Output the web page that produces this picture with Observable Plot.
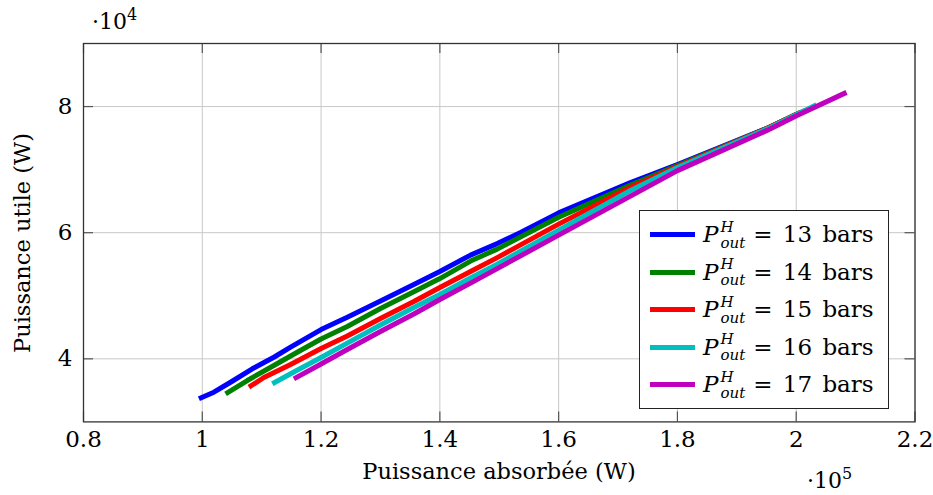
<!DOCTYPE html>
<html><head><meta charset="utf-8">
<script src="https://cdn.jsdelivr.net/npm/d3@7"></script>
<script src="https://cdn.jsdelivr.net/npm/@observablehq/plot@0.6"></script>
<style>
body{margin:0;background:#fff;}
#wrap{position:relative;width:933px;height:495px;font-family:"DejaVu Serif","Liberation Serif","Noto Serif",serif;color:#000;overflow:hidden;}
.ov{position:absolute;white-space:nowrap;line-height:1;}
#legend{position:absolute;left:639px;top:210px;width:250px;height:199px;box-sizing:border-box;border:1.3px solid #222;background:#fff;padding-top:5px;}
.row{display:flex;align-items:center;height:37.5px;font-size:23px;line-height:1;}
.sw{width:45px;height:5px;margin-left:10px;margin-right:8px;flex:none;}
.P{font-style:italic;}
.ss{display:inline-flex;flex-direction:column;font-style:italic;font-size:15px;line-height:1.08;margin-left:2px;}
.rest{margin-left:8px;word-spacing:3px;}
</style></head><body><div id="wrap"></div><script>
// Series: outlet pressure P_out^H (bars)
const seriesNames = ["13", "14", "15", "16", "17"];
const seriesColors = ["#0000ff", "#008000", "#ff0000", "#00bfbf", "#bf00bf"];

// Puissance absorbée (W) / Puissance utile (W)
const p13X = [99430, 101950, 104760, 108420, 112050, 114870, 120000, 124410, 130000, 135620, 140000, 145170, 149660, 153590, 160000, 172100, 180000, 195170, 200050];
const p13Y = [33660, 34710, 36290, 38420, 40250, 41840, 44640, 46590, 49160, 51780, 53840, 56450, 58270, 60020, 63140, 67940, 70790, 76580, 78800];
const p14X = [103920, 107580, 112050, 115990, 120000, 124410, 130000, 135620, 140000, 145170, 149660, 160000, 172100, 180000, 195170, 200720];
const p14Y = [34450, 36560, 38940, 41050, 43140, 45120, 47970, 50620, 52730, 55500, 57400, 62440, 67540, 70630, 76580, 79110];
const p15X = [107850, 110370, 114870, 120000, 124410, 130000, 135620, 140000, 145170, 149660, 160000, 172100, 180000, 195170, 201570];
const p15Y = [35500, 37040, 39100, 41630, 43610, 46390, 49080, 51300, 53840, 56050, 61360, 67200, 70480, 76580, 79430];
const p16X = [111790, 115420, 120000, 124410, 130000, 135620, 140000, 145170, 149660, 160000, 172100, 180000, 195170, 203420];
const p16Y = [36040, 37910, 40210, 42500, 45360, 48130, 50190, 52810, 55020, 60410, 66700, 70320, 76500, 80300];
const p17X = [115420, 120000, 124410, 130000, 135620, 140000, 145170, 149660, 160000, 172100, 180000, 195170, 200050, 208470];
const p17Y = [36830, 39180, 41470, 44330, 47100, 49400, 52010, 54310, 59620, 65800, 69840, 76260, 78560, 82250];

const xTicks = [80000, 100000, 120000, 140000, 160000, 180000, 200000, 220000];
const xTickLabels = ["0.8", "1", "1.2", "1.4", "1.6", "1.8", "2", "2.2"];
const yTicks = [40000, 60000, 80000];
const yTickLabels = ["4", "6", "8"];

const seriesX = [p13X, p14X, p15X, p16X, p17X];
const seriesY = [p13Y, p14Y, p15Y, p16Y, p17Y];
const data = seriesNames.flatMap((s, k) => seriesX[k].map((x, i) => ({series: s, x, y: seriesY[k][i]})));

const W = 933, H = 495, mL = 83, mR = 18.5, mT = 43, mB = 73.6;
const plotW = W - mL - mR, plotH = H - mT - mB;
const tickLen = 10, gridColor = "#c8c8c8", tickColor = "#555";

const chart = Plot.plot({
  width: W, height: H,
  marginLeft: mL, marginRight: mR, marginTop: mT, marginBottom: mB,
  style: {fontFamily: "'DejaVu Serif', 'Liberation Serif', serif", fontSize: "23px", background: "white", color: "#000"},
  x: {domain: [80000, 220000]},
  y: {domain: [30000, 90000]},
  color: {domain: seriesNames, range: seriesColors},
  marks: [
    Plot.gridX(xTicks, {stroke: gridColor, strokeOpacity: 1, strokeWidth: 1}),
    Plot.gridY(yTicks, {stroke: gridColor, strokeOpacity: 1, strokeWidth: 1}),
    Plot.tickX(xTicks, {x: d => d, insetTop: plotH - tickLen, stroke: tickColor, strokeWidth: 1.2}),
    Plot.tickX(xTicks, {x: d => d, insetBottom: plotH - tickLen, stroke: tickColor, strokeWidth: 1.2}),
    Plot.tickY(yTicks, {y: d => d, insetRight: plotW - tickLen, stroke: tickColor, strokeWidth: 1.2}),
    Plot.tickY(yTicks, {y: d => d, insetLeft: plotW - tickLen, stroke: tickColor, strokeWidth: 1.2}),
    Plot.line(data, {x: "x", y: "y", z: "series", stroke: "series", strokeWidth: 5, strokeLinejoin: "round", strokeLinecap: "butt"}),
    Plot.frame({stroke: "#333", strokeWidth: 1.3}),
    Plot.axisX(xTicks, {tickSize: 0, tickPadding: 9, tickFormat: d => xTickLabels[xTicks.indexOf(d)], label: null}),
    Plot.axisY(yTicks, {tickSize: 0, tickPadding: 11, tickFormat: d => yTickLabels[yTicks.indexOf(d)], label: null})
  ]
});

const wrap = document.getElementById("wrap");
wrap.appendChild(chart);

function addText(html, css) {
  const d = document.createElement("div");
  d.className = "ov";
  d.innerHTML = html;
  Object.assign(d.style, css);
  wrap.appendChild(d);
  return d;
}
addText("Puissance absorbée (W)", {left: "499px", top: "460px", fontSize: "22.5px", transform: "translateX(-50%)"});
addText("Puissance utile (W)", {left: "22px", top: "243px", fontSize: "22.5px", transform: "translate(-50%,-50%) rotate(-90deg)"});
addText("·10<sup style='font-size:16px;vertical-align:0.55em;line-height:0'>4</sup>", {left: "92px", top: "11px", fontSize: "22px"});
addText("·10<sup style='font-size:16px;vertical-align:0.55em;line-height:0'>5</sup>", {left: "807px", top: "470px", fontSize: "22px"});

const legend = document.createElement("div");
legend.id = "legend";
seriesNames.forEach((s, k) => {
  const row = document.createElement("div");
  row.className = "row";
  row.innerHTML = `<span class="sw" style="background:${seriesColors[k]}"></span><span class="P">P</span><span class="ss"><span>H</span><span>out</span></span><span class="rest">= ${s} bars</span>`;
  legend.appendChild(row);
});
wrap.appendChild(legend);
</script></body></html>
